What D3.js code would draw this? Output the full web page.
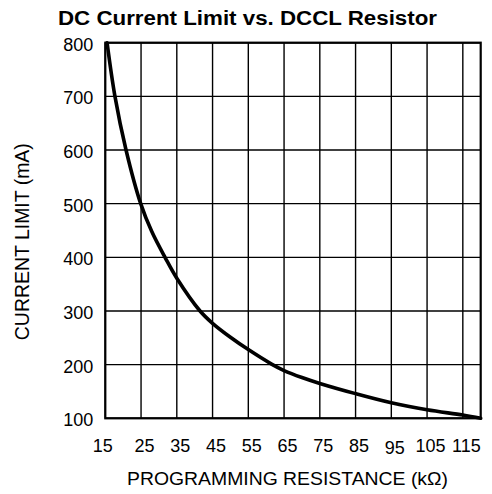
<!DOCTYPE html>
<html>
<head>
<meta charset="utf-8">
<script src="https://cdn.jsdelivr.net/npm/d3@7"></script>
<style>
  body { margin: 0; background: #fff; }
  text { font-family: "Liberation Sans", Arial, sans-serif; fill: #000; }
</style>
</head>
<body>
<script>
let width = 492, height = 494;

let resistance = [15.5, 17.7, 20.8, 24.9, 28, 31.7, 35, 41.5, 45, 50, 55, 61.5, 65, 70, 75, 85, 95, 105, 115, 120];
let current    = [800, 700, 600, 500, 448, 400, 361, 300, 277, 251, 228, 201, 189, 176, 165, 146, 129, 116, 106, 100];

let xTicks = [15, 25, 35, 45, 55, 65, 75, 85, 95, 105, 115];
let yTicks = [100, 200, 300, 400, 500, 600, 700, 800];

let margin = {top: 42.7, right: 11.3, bottom: 75.7, left: 105.3};

let svg = d3.select("body").append("svg")
    .attr("width", width)
    .attr("height", height);

let x = d3.scaleLinear().domain([15, 120]).range([margin.left, width - margin.right]);
let y = d3.scaleLinear().domain([100, 800]).range([height - margin.bottom, margin.top]);

// grid
svg.append("g")
  .selectAll("line")
  .data(xTicks)
  .enter().append("line")
    .attr("x1", d => x(d)).attr("x2", d => x(d))
    .attr("y1", y(800)).attr("y2", y(100))
    .attr("stroke", "#000").attr("stroke-width", 1.4);

svg.append("g")
  .selectAll("line")
  .data(yTicks)
  .enter().append("line")
    .attr("x1", x(15)).attr("x2", x(120))
    .attr("y1", d => y(d)).attr("y2", d => y(d))
    .attr("stroke", "#000").attr("stroke-width", 1.4);

// frame
svg.append("rect")
    .attr("x", x(15)).attr("y", y(800))
    .attr("width", x(120) - x(15)).attr("height", y(100) - y(800))
    .attr("fill", "none").attr("stroke", "#000").attr("stroke-width", 2.2);

// tick labels
svg.append("g")
  .selectAll("text")
  .data(yTicks)
  .enter().append("text")
    .attr("x", x(15) - 12)
    .attr("y", d => y(d) + 1.5)
    .attr("dy", "0.36em")
    .attr("text-anchor", "end")
    .style("font-size", "18px")
    .text(d => d);

svg.append("g")
  .selectAll("text")
  .data(xTicks)
  .enter().append("text")
    .attr("x", d => x(d) + (d === 15 ? -2.5 : 3.5))
    .attr("y", d => d === 95 ? 454 : 451.7)
    .attr("text-anchor", "middle")
    .style("font-size", "18px")
    .text(d => d);

// curve
let line = d3.line()
    .x(d => x(d[0]))
    .y(d => y(d[1]))
    .curve(d3.curveCatmullRom.alpha(0.5));

svg.append("path")
    .datum(d3.zip(resistance, current))
    .attr("d", line)
    .attr("fill", "none")
    .attr("stroke", "#000")
    .attr("stroke-width", 3.6)
    .attr("stroke-linecap", "round")
    .attr("stroke-linejoin", "round");

// titles
svg.append("text")
    .attr("x", 247.5)
    .attr("y", 25)
    .attr("text-anchor", "middle")
    .attr("textLength", 379)
    .attr("lengthAdjust", "spacingAndGlyphs")
    .style("font-size", "20px")
    .style("font-weight", "bold")
    .text("DC Current Limit vs. DCCL Resistor");

svg.append("text")
    .attr("x", 287.5)
    .attr("y", 485)
    .attr("text-anchor", "middle")
    .attr("textLength", 321)
    .attr("lengthAdjust", "spacingAndGlyphs")
    .style("font-size", "18.5px")
    .text("PROGRAMMING RESISTANCE (k\u03A9)");

svg.append("text")
    .attr("transform", "translate(29,241.7) rotate(-90)")
    .attr("text-anchor", "middle")
    .attr("textLength", 197)
    .attr("lengthAdjust", "spacingAndGlyphs")
    .style("font-size", "19.5px")
    .text("CURRENT LIMIT (mA)");
</script>
</body>
</html>
